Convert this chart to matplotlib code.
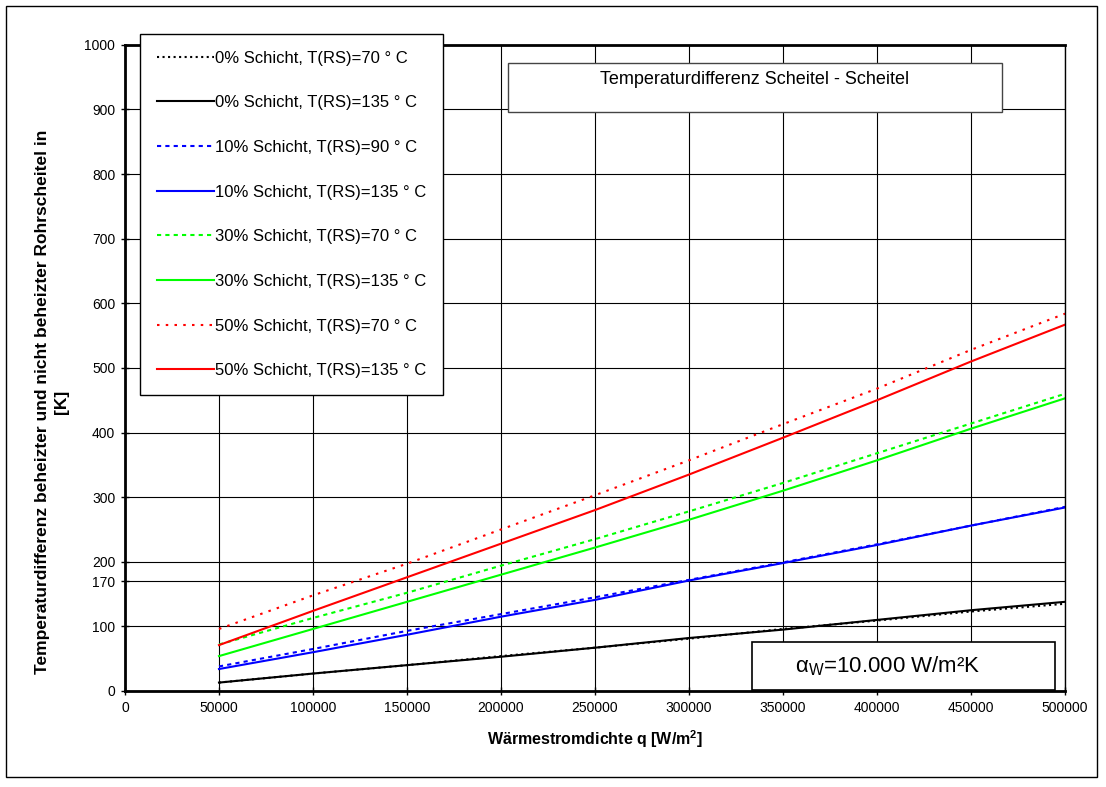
import numpy as np
import matplotlib
matplotlib.use("Agg")
import matplotlib.pyplot as plt
from matplotlib.patches import Rectangle

plt.rcParams['font.family'] = ['Liberation Sans', 'DejaVu Sans']
plt.rcParams['mathtext.fontset'] = 'custom'
plt.rcParams['mathtext.rm'] = 'Liberation Sans'
plt.rcParams['mathtext.bf'] = 'Liberation Sans:bold'

# Heat flux density q [W/m2]
q = [50000, 100000, 150000, 200000, 250000, 300000, 350000, 400000, 450000, 500000]

# Temperature difference [K]
black_70 = [13, 27, 40, 54, 67, 81, 96, 109, 123, 135]
black_135 = [13, 27, 40, 53, 67, 82, 95, 110, 125, 138]
blue_90 = [38, 65, 93, 119, 145, 172, 199, 227, 256, 285]
blue_135 = [34, 60, 87, 115, 141, 171, 198, 226, 256, 284]
green_70 = [72, 113, 152, 194, 235, 278, 322, 368, 414, 460]
green_135 = [54, 96, 138, 180, 222, 265, 310, 357, 406, 453]
red_70 = [96, 148, 197, 250, 303, 357, 413, 468, 528, 584]
red_135 = [71, 124, 176, 228, 280, 335, 392, 450, 510, 567]

labels = ["0% Schicht, T(RS)=70 ° C", "0% Schicht, T(RS)=135 ° C",
          "10% Schicht, T(RS)=90 ° C", "10% Schicht, T(RS)=135 ° C",
          "30% Schicht, T(RS)=70 ° C", "30% Schicht, T(RS)=135 ° C",
          "50% Schicht, T(RS)=70 ° C", "50% Schicht, T(RS)=135 ° C"]

yticks = [0, 100, 170, 200, 300, 400, 500, 600, 700, 800, 900, 1000]
xticks = [0, 50000, 100000, 150000, 200000, 250000, 300000, 350000, 400000, 450000, 500000]

fig = plt.figure(figsize=(11.06, 7.87), dpi=100)
ax = fig.add_axes([0.113, 0.122, 0.850, 0.821])

# outer frame around the whole chart
fig.patches.append(Rectangle((0.005, 0.013), 0.987, 0.980, transform=fig.transFigure,
                             fill=False, edgecolor='black', linewidth=1.0))

ax.plot(q, black_70, color='black', linestyle=':', linewidth=1.5, label=labels[0])
ax.plot(q, black_135, color='black', linestyle='-', linewidth=1.5, label=labels[1])
ax.plot(q, blue_90, color='#0000ff', linestyle=(0, (2, 2)), linewidth=1.5, label=labels[2])
ax.plot(q, blue_135, color='#0000ff', linestyle='-', linewidth=1.5, label=labels[3])
ax.plot(q, green_70, color='#00ff00', linestyle=(0, (2, 2)), linewidth=1.5, label=labels[4])
ax.plot(q, green_135, color='#00ff00', linestyle='-', linewidth=1.5, label=labels[5])
ax.plot(q, red_70, color='#ff0000', linestyle=(0, (1.2, 3)), linewidth=1.5, label=labels[6])
ax.plot(q, red_135, color='#ff0000', linestyle='-', linewidth=1.5, label=labels[7])

ax.set_xlim(0, 500000)
ax.set_ylim(0, 1000)
ax.set_xticks(xticks)
ax.set_xticklabels([str(v) for v in xticks], fontsize=10)
ax.set_yticks(yticks)
ax.set_yticklabels([str(v) for v in yticks], fontsize=10)
ax.tick_params(direction='inout', length=6, width=1, pad=4)
ax.grid(True, color='black', linewidth=0.8)
ax.set_axisbelow(True)

for s in ['left', 'bottom', 'top']:
    ax.spines[s].set_linewidth(2)
ax.spines['right'].set_linewidth(1)

ax.set_xlabel(r'Wärmestromdichte q [W/m$\mathbf{^{2}}$]', fontsize=11.5, fontweight='bold', labelpad=10)
ax.set_ylabel('Temperaturdifferenz beheizter und nicht beheizter Rohrscheitel in\n[K]',
              fontsize=12.5, fontweight='bold', linespacing=1.3)
ax.yaxis.set_label_coords(-0.06, 0.447)

leg = fig.legend(loc='upper left', bbox_to_anchor=(0.127, 0.957), bbox_transform=fig.transFigure,
                 fontsize=12, frameon=True, fancybox=False, edgecolor='black', framealpha=1,
                 handlelength=3.4, handletextpad=0.1, labelspacing=1.78, borderpad=1.0,
                 borderaxespad=0)
leg.get_frame().set_linewidth(1.0)

# title box
fig.patches.append(Rectangle((508 / 1106, 1 - 112 / 787), 494 / 1106, 49 / 787,
                             transform=fig.transFigure, facecolor='white',
                             edgecolor='#444444', linewidth=1.0, zorder=3))
fig.text(755 / 1106, 1 - 80 / 787, 'Temperaturdifferenz Scheitel - Scheitel',
         ha='center', va='center', fontsize=13, zorder=4)

# alpha box
fig.patches.append(Rectangle((752 / 1106, 1 - 690 / 787), 303 / 1106, 48 / 787,
                             transform=fig.transFigure, facecolor='white',
                             edgecolor='black', linewidth=1.2, zorder=3))
fig.text(888 / 1106, 1 - 666 / 787, r'$\mathregular{α_{W}}$=10.000 W/m²K',
         ha='center', va='center', fontsize=16, zorder=4)

fig.savefig('out.png', dpi=100)
